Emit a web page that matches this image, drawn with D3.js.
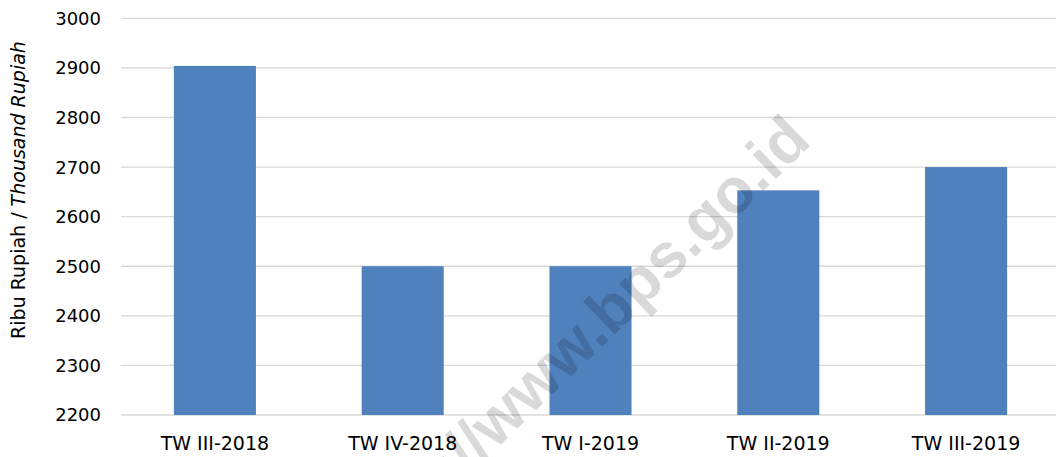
<!DOCTYPE html>
<html lang="id">
<head>
    <meta charset="UTF-8">
    <title>Ribu Rupiah per Triwulan</title>
    <script src="https://d3js.org/d3.v7.min.js"></script>
    <style>
        body {
            margin: 0;
            background: #ffffff;
            font-family: 'DejaVu Sans', sans-serif;
        }
        svg {
            display: block;
        }
        .grid line {
            stroke: #d9d9d9;
            stroke-width: 1.3px;
        }
        .tick-label {
            font-size: 18px;
            fill: #000;
        }
        .cat-label {
            font-size: 19px;
            fill: #000;
        }
        .bar {
            fill: #4f81bd;
        }
        .watermark {
            font-family: 'Liberation Sans', Arial, sans-serif;
            font-size: 63px;
            font-weight: bold;
            fill: #000;
            fill-opacity: 0.15;
        }
    </style>
</head>
<body>
    <svg width="1056" height="457"></svg>

    <script>
        // data
        const categories = ["TW III-2018", "TW IV-2018", "TW I-2019", "TW II-2019", "TW III-2019"];
        const values = [2904, 2500, 2500, 2653, 2700];
        const yTicks = [2200, 2300, 2400, 2500, 2600, 2700, 2800, 2900, 3000];

        const svg = d3.select("svg");

        const plotLeft = 121, plotRight = 1060, plotTop = 18.3, plotBottom = 415;

        const x = d3.scaleBand()
            .domain(categories)
            .range([plotLeft, plotRight])
            .paddingInner(0.563)
            .paddingOuter(0.2815);

        const y = d3.scaleLinear()
            .domain([2200, 3000])
            .range([plotBottom, plotTop]);

        // gridlines
        svg.append("g")
            .attr("class", "grid")
            .selectAll("line")
            .data(yTicks)
            .enter()
            .append("line")
            .attr("x1", plotLeft)
            .attr("x2", plotRight)
            .attr("y1", d => y(d))
            .attr("y2", d => y(d));

        // y tick labels
        svg.append("g")
            .selectAll("text")
            .data(yTicks)
            .enter()
            .append("text")
            .attr("class", "tick-label")
            .attr("x", 101)
            .attr("y", d => y(d))
            .attr("dy", "0.36em")
            .attr("text-anchor", "end")
            .text(d => d);

        // bars
        svg.append("g")
            .selectAll("rect")
            .data(values)
            .enter()
            .append("rect")
            .attr("class", "bar")
            .attr("x", (d, i) => x(categories[i]))
            .attr("width", x.bandwidth())
            .attr("y", d => y(d))
            .attr("height", d => y(2200) - y(d));

        // category labels
        svg.append("g")
            .selectAll("text")
            .data(categories)
            .enter()
            .append("text")
            .attr("class", "cat-label")
            .attr("x", d => x(d) + x.bandwidth() / 2)
            .attr("y", 450)
            .attr("text-anchor", "middle")
            .text(d => d);

        // y axis title
        const title = svg.append("text")
            .attr("transform", "translate(25,190) rotate(-90)")
            .attr("text-anchor", "middle")
            .style("font-size", "19px")
            .style("fill", "#000");
        title.append("tspan").text("Ribu Rupiah /  ");
        title.append("tspan").style("font-style", "italic").text("Thousand Rupiah");

        // watermark (runs off the bottom edge like in the source)
        svg.append("text")
            .attr("class", "watermark")
            .attr("transform", "translate(813,143) rotate(-44)")
            .attr("text-anchor", "end")
            .text("http://www.bps.go.id");
    </script>
</body>
</html>
